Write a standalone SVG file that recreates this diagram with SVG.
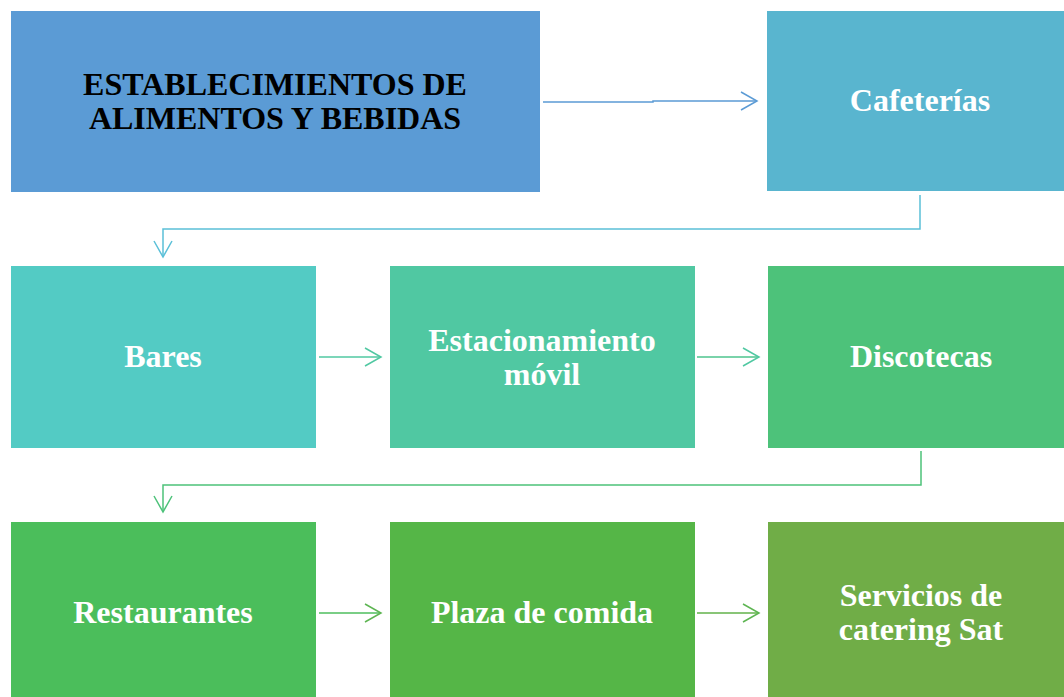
<svg xmlns="http://www.w3.org/2000/svg" width="1064" height="697" viewBox="0 0 1064 697">
<style>
.t{font-family:"Liberation Serif","Times New Roman",serif;font-weight:bold;font-size:32px;text-anchor:middle;fill:#fff}
.k{fill:#000}
.c{fill:none;stroke-width:1.5}
</style>
<defs>
<marker id="m1" markerWidth="20" markerHeight="20" refX="18" refY="10" orient="auto" markerUnits="userSpaceOnUse"><path d="M2,1 L18,10 L2,19" fill="none" stroke="#5B9BD5" stroke-width="1.5"/></marker>
<marker id="m2" markerWidth="20" markerHeight="20" refX="18" refY="10" orient="auto" markerUnits="userSpaceOnUse"><path d="M2,1 L18,10 L2,19" fill="none" stroke="#5BC0D8" stroke-width="1.5"/></marker>
<marker id="m3" markerWidth="20" markerHeight="20" refX="18" refY="10" orient="auto" markerUnits="userSpaceOnUse"><path d="M2,1 L18,10 L2,19" fill="none" stroke="#50C8A2" stroke-width="1.5"/></marker>
<marker id="m4" markerWidth="20" markerHeight="20" refX="18" refY="10" orient="auto" markerUnits="userSpaceOnUse"><path d="M2,1 L18,10 L2,19" fill="none" stroke="#4EC27A" stroke-width="1.5"/></marker>
<marker id="m5" markerWidth="20" markerHeight="20" refX="18" refY="10" orient="auto" markerUnits="userSpaceOnUse"><path d="M2,1 L18,10 L2,19" fill="none" stroke="#5DB552" stroke-width="1.5"/></marker>
</defs>
<rect width="1064" height="697" fill="#fff"/>
<g id="n1"><rect x="11" y="11" width="529" height="181" fill="#5B9BD5"/><text class="t k" x="275" y="95">ESTABLECIMIENTOS DE</text><text class="t k" x="275" y="129">ALIMENTOS Y BEBIDAS</text></g>
<g id="n2"><rect x="767" y="11" width="297" height="180" fill="#59B5CF"/><text class="t" x="920" y="111">Cafeterías</text></g>
<g id="n3"><rect x="11" y="266" width="305" height="182" fill="#53CBC4"/><text class="t" x="163" y="367">Bares</text></g>
<g id="n4"><rect x="390" y="266" width="305" height="182" fill="#50C8A2"/><text class="t" x="542" y="351">Estacionamiento</text><text class="t" x="542" y="385">móvil</text></g>
<g id="n5"><rect x="768" y="266" width="296" height="182" fill="#4DC27A"/><text class="t" x="921" y="367">Discotecas</text></g>
<g id="n6"><rect x="11" y="522" width="305" height="175" fill="#4BBE5B"/><text class="t" x="163" y="623">Restaurantes</text></g>
<g id="n7"><rect x="390" y="522" width="305" height="175" fill="#55B647"/><text class="t" x="542" y="623">Plaza de comida</text></g>
<g id="n8"><rect x="768" y="522" width="296" height="175" fill="#70AD47"/><text class="t" x="921" y="606">Servicios de</text><text class="t" x="921" y="640">catering Sat</text></g>
<g id="connectors">
<path class="c" d="M543,102 L653,102 L653,101 L757,101" stroke="#5B9BD5" marker-end="url(#m1)"/>
<path class="c" d="M920,195 L920,229 L163,229 L163,257" stroke="#5BC0D8" marker-end="url(#m2)"/>
<path class="c" d="M319,357 L381,357" stroke="#50C8A2" marker-end="url(#m3)"/>
<path class="c" d="M697,357 L759,357" stroke="#4EC48E" marker-end="url(#m3)"/>
<path class="c" d="M921,451 L921,485 L163,485 L163,512" stroke="#4EC27A" marker-end="url(#m4)"/>
<path class="c" d="M319,613 L381,613" stroke="#4EBE5E" marker-end="url(#m5)"/>
<path class="c" d="M697,613 L759,613" stroke="#62B24A" marker-end="url(#m5)"/>
</g>
</svg>
